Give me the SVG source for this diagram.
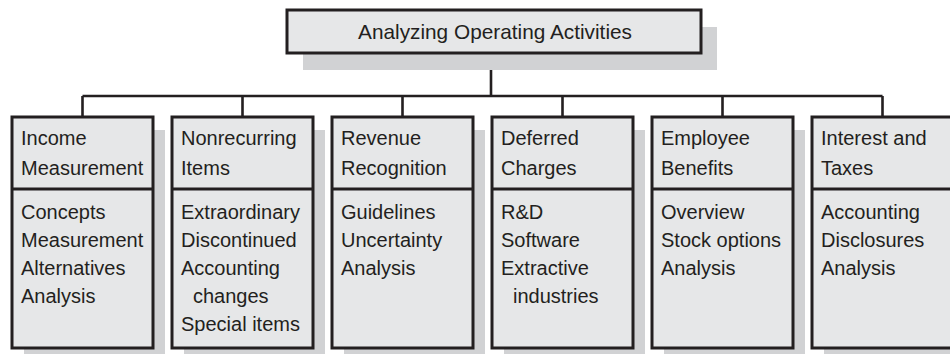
<svg xmlns="http://www.w3.org/2000/svg" width="950" height="354" viewBox="0 0 950 354">
<style>
.shadow{fill:#d1d2d4}
.box{fill:#e6e7e8;stroke:#231f20;stroke-width:3}
.div{stroke:#231f20;stroke-width:3}
.conn{fill:none;stroke:#231f20;stroke-width:2.6}
text{font-family:"Liberation Sans",Arial,sans-serif;font-size:20px;fill:#231f20}
.title{font-size:20.8px}
</style>
<rect width="950" height="354" fill="#ffffff"/>
<g id="connectors">
<path class="conn" d="M491 53V96M82.5 96H882.5M82.5 96V117M242.5 96V117M402.5 96V117M562.5 96V117M722.5 96V117M882.5 96V117"/>
</g>
<g id="root">
<rect class="shadow" x="303" y="27" width="414" height="43"/>
<rect class="box" x="287" y="10" width="414" height="43"/>
<text class="title" x="495" y="39" text-anchor="middle">Analyzing Operating Activities</text>
</g>
<g id="income">
<rect class="shadow" x="24" y="130" width="141" height="231"/>
<rect class="box" x="12" y="117" width="141" height="231"/>
<line class="div" x1="12" y1="189" x2="153" y2="189"/>
<text x="21" y="145">Income</text>
<text x="21" y="175">Measurement</text>
<text x="21" y="219">Concepts</text>
<text x="21" y="247">Measurement</text>
<text x="21" y="275">Alternatives</text>
<text x="21" y="303">Analysis</text>
</g>
<g id="nonrecurring">
<rect class="shadow" x="184" y="130" width="141" height="231"/>
<rect class="box" x="172" y="117" width="141" height="231"/>
<line class="div" x1="172" y1="189" x2="313" y2="189"/>
<text x="181" y="145">Nonrecurring</text>
<text x="181" y="175">Items</text>
<text x="181" y="219">Extraordinary</text>
<text x="181" y="247">Discontinued</text>
<text x="181" y="275">Accounting</text>
<text x="193" y="303">changes</text>
<text x="181" y="331">Special items</text>
</g>
<g id="revenue">
<rect class="shadow" x="344" y="130" width="141" height="231"/>
<rect class="box" x="332" y="117" width="141" height="231"/>
<line class="div" x1="332" y1="189" x2="473" y2="189"/>
<text x="341" y="145">Revenue</text>
<text x="341" y="175">Recognition</text>
<text x="341" y="219">Guidelines</text>
<text x="341" y="247">Uncertainty</text>
<text x="341" y="275">Analysis</text>
</g>
<g id="deferred">
<rect class="shadow" x="504" y="130" width="141" height="231"/>
<rect class="box" x="492" y="117" width="141" height="231"/>
<line class="div" x1="492" y1="189" x2="633" y2="189"/>
<text x="501" y="145">Deferred</text>
<text x="501" y="175">Charges</text>
<text x="501" y="219">R&amp;D</text>
<text x="501" y="247">Software</text>
<text x="501" y="275">Extractive</text>
<text x="513" y="303">industries</text>
</g>
<g id="employee">
<rect class="shadow" x="664" y="130" width="141" height="231"/>
<rect class="box" x="652" y="117" width="141" height="231"/>
<line class="div" x1="652" y1="189" x2="793" y2="189"/>
<text x="661" y="145">Employee</text>
<text x="661" y="175">Benefits</text>
<text x="661" y="219">Overview</text>
<text x="661" y="247">Stock options</text>
<text x="661" y="275">Analysis</text>
</g>
<g id="interest">
<rect class="shadow" x="824" y="130" width="141" height="231"/>
<rect class="box" x="812" y="117" width="141" height="231"/>
<line class="div" x1="812" y1="189" x2="953" y2="189"/>
<text x="821" y="145">Interest and</text>
<text x="821" y="175">Taxes</text>
<text x="821" y="219">Accounting</text>
<text x="821" y="247">Disclosures</text>
<text x="821" y="275">Analysis</text>
</g>
</svg>
